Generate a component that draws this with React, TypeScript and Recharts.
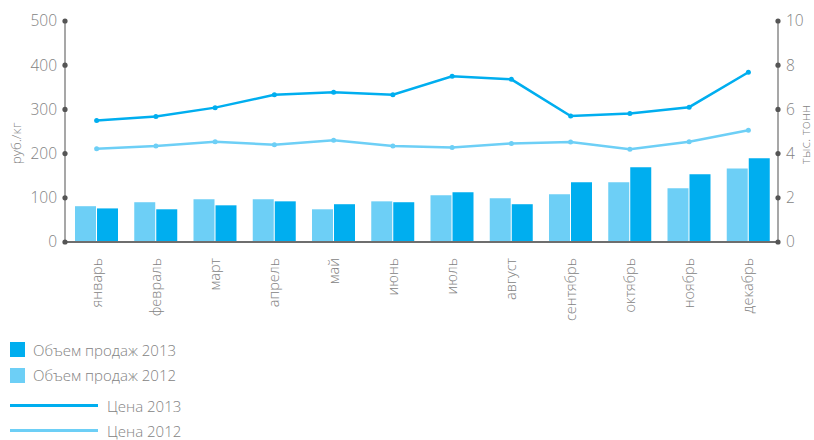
import { ComposedChart, Bar, Line, XAxis, YAxis } from 'recharts'

const months = ['январь', 'февраль', 'март', 'апрель', 'май', 'июнь', 'июль', 'август', 'сентябрь', 'октябрь', 'ноябрь', 'декабрь']
const volume2012 = [1.62, 1.8, 1.93, 1.93, 1.48, 1.84, 2.11, 1.98, 2.16, 2.7, 2.43, 3.33]
const volume2013 = [1.52, 1.48, 1.66, 1.84, 1.71, 1.8, 2.25, 1.71, 2.7, 3.38, 3.06, 3.79]
const price2013 = [275, 284, 304, 333, 339, 333, 375, 368, 285, 291, 305, 384]
const price2012 = [211, 217, 227, 220, 230, 217, 214, 223, 226, 210, 227, 253]
const priceTicks = [0, 100, 200, 300, 400, 500]
const volumeTicks = [0, 2, 4, 6, 8, 10]

const DARK = '#00aeef'
const LIGHT = '#6dcff6'
const TEXT = '#838383'
const FONT = '"Open Sans", sans-serif'

const data = months.map((m, i) => ({
  month: m,
  v2012: volume2012[i],
  v2013: volume2013[i],
  p2012: price2012[i],
  p2013: price2013[i],
}))

function LeftTick({ x, y, payload }: any) {
  return (
    <g>
      <circle cx={x + 8} cy={y} r={2.6} fill="#555" />
      <text x={x} y={y} dy="0.35em" textAnchor="end" fontSize={15.5} fill={TEXT} fontFamily={FONT} fontWeight={300}>
        {payload.value}
      </text>
    </g>
  )
}

function RightTick({ x, y, payload }: any) {
  return (
    <g>
      <circle cx={x - 8} cy={y} r={2.6} fill="#555" />
      <text x={x} y={y} dy="0.35em" textAnchor="start" fontSize={15.5} fill={TEXT} fontFamily={FONT} fontWeight={300}>
        {payload.value}
      </text>
    </g>
  )
}

function MonthTick({ x, y, payload }: any) {
  return (
    <g transform={`translate(${x},${y})`}>
      <text transform="rotate(-90)" textAnchor="end" dy="0.35em" fontSize={14.5} fill={TEXT} fontFamily={FONT} fontWeight={300}>
        {payload.value}
      </text>
    </g>
  )
}

function UnitLabel({ viewBox, value, side }: any) {
  const cx = side === 'left' ? viewBox.x + 16 : viewBox.x + viewBox.width - 9
  const cy = viewBox.y + viewBox.height / 2 + (side === 'left' ? 12 : 3)
  return (
    <text x={cx} y={cy} transform={`rotate(-90, ${cx}, ${cy})`} textAnchor="middle" dy="0.35em" fontSize={13.5} fill={TEXT} fontFamily={FONT} fontWeight={300}>
      {value}
    </text>
  )
}

const legendBars = [
  { label: 'Объем продаж 2013', color: DARK },
  { label: 'Объем продаж 2012', color: LIGHT },
]
const legendLines = [
  { label: 'Цена 2013', color: DARK },
  { label: 'Цена 2012', color: LIGHT },
]

export default function App() {
  return (
    <div style={{ position: 'absolute', left: 0, top: 0, width: 814, height: 440, background: '#fff', overflow: 'hidden' }}>
      <ComposedChart width={814} height={440} data={data} margin={{ top: 21, right: 0, left: 0, bottom: 118 }} barGap={1} barCategoryGap={8}>
        <XAxis
          dataKey="month"
          interval={0}
          height={80}
          padding={{ left: 2, right: 0 }}
          tick={<MonthTick />}
          tickLine={false}
          tickSize={0}
          tickMargin={16}
          axisLine={{ stroke: '#6e6e6e', strokeWidth: 2 }}
        />
        <YAxis
          yAxisId="price"
          orientation="left"
          width={65}
          domain={[0, 500]}
          ticks={priceTicks}
          tick={<LeftTick />}
          tickLine={false}
          tickSize={0}
          tickMargin={8}
          axisLine={{ stroke: '#8a8a8a', strokeWidth: 1.5 }}
          label={<UnitLabel value="руб./кг" side="left" />}
        />
        <YAxis
          yAxisId="volume"
          orientation="right"
          width={36}
          domain={[0, 10]}
          ticks={volumeTicks}
          tick={<RightTick />}
          tickLine={false}
          tickSize={0}
          tickMargin={8}
          axisLine={{ stroke: '#8a8a8a', strokeWidth: 1.5 }}
          label={<UnitLabel value="тыс. тонн" side="right" />}
        />
        <Bar yAxisId="volume" dataKey="v2012" fill={LIGHT} barSize={21} isAnimationActive={false} />
        <Bar yAxisId="volume" dataKey="v2013" fill={DARK} barSize={21} isAnimationActive={false} />
        <Line yAxisId="price" dataKey="p2012" stroke={LIGHT} strokeWidth={2.5} dot={{ r: 2.5, fill: LIGHT, stroke: LIGHT, strokeWidth: 0 }} isAnimationActive={false} />
        <Line yAxisId="price" dataKey="p2013" stroke={DARK} strokeWidth={2.5} dot={{ r: 2.5, fill: DARK, stroke: DARK, strokeWidth: 0 }} isAnimationActive={false} />
      </ComposedChart>
      <div style={{ position: 'absolute', left: 10, top: 337, fontFamily: FONT, fontWeight: 300, fontSize: 15, lineHeight: '18px', color: TEXT }}>
        {legendBars.map(item => (
          <div key={item.label} style={{ display: 'flex', alignItems: 'center', height: 25.5 }}>
            <span style={{ width: 15, height: 15, background: item.color, marginRight: 8 }} />
            <span>{item.label}</span>
          </div>
        ))}
        <div style={{ height: 5 }} />
        {legendLines.map(item => (
          <div key={item.label} style={{ display: 'flex', alignItems: 'center', height: 25 }}>
            <span style={{ width: 88, height: 3, background: item.color, marginRight: 9 }} />
            <span>{item.label}</span>
          </div>
        ))}
      </div>
    </div>
  )
}
